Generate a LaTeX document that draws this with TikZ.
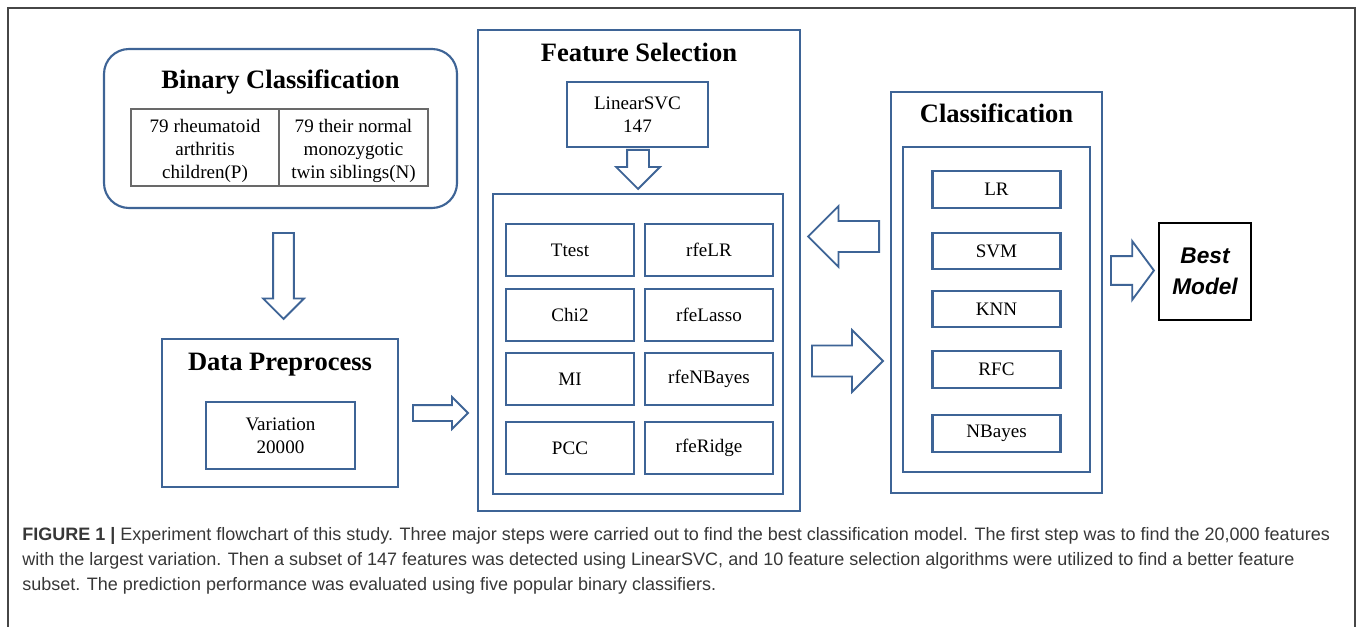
\documentclass[tikz,border=0pt]{standalone}
\usepackage{fontspec}
\setmainfont{Liberation Serif}
\newfontfamily\capfont{Liberation Sans}
\usetikzlibrary{shapes.arrows}

\definecolor{boxblue}{RGB}{62,100,150}
\definecolor{cellgray}{RGB}{105,105,105}
\definecolor{framegray}{RGB}{70,70,70}
\definecolor{captext}{RGB}{55,55,55}

\tikzset{
  box/.style={draw=boxblue, line width=1.6pt, inner sep=0pt},
  algo/.style={box, minimum width=96pt, minimum height=39pt, font=\fontsize{14.3}{17}\selectfont},
  clf/.style={box, minimum width=96pt, minimum height=27.5pt, font=\fontsize{14.3}{17}\selectfont},
  cell/.style={draw=cellgray, line width=0.8pt, inner sep=0pt, minimum height=57.75pt},
  celltext/.style={align=center, inner sep=0pt, font=\fontsize{14.3}{17}\selectfont},
  steptitle/.style={font=\fontsize{19.9}{23}\selectfont\bfseries},
  fat/.style={single arrow, draw=boxblue, line width=1.4pt, fill=white, inner xsep=0pt,
    minimum width=0pt, anchor=tail}
}

\begin{document}
\begin{tikzpicture}[x=0.75pt,y=-0.75pt]
\useasboundingbox (0,0) rectangle (1358,627);
% figure frame, open at the bottom
\draw[framegray, line width=0.8pt] (8,627) -- (8,8) -- (1355,8) -- (1355,627);

% binary classification
\node[box, rounded corners=18.75pt, minimum width=264.75pt, minimum height=119.25pt] (bin) at (280.5,128.5) {};
\node[steptitle] (bintitle) at (280.5,82) {Binary Classification};
\node[cell, minimum width=111pt] (pos) at (205,147.5) {};
\node[cell, minimum width=111.75pt] (neg) at (353.5,147.5) {};
\node[celltext] (postext) at (205,151) {79 rheumatoid\\arthritis\\children(P)};
\node[celltext] (negtext) at (353.5,151) {79 their normal\\monozygotic\\twin siblings(N)};

\node[fat, minimum height=64.5pt, inner ysep=7.1pt, single arrow head extend=7.5pt, rotate=-90] (down1) at (283.5,232) {};

% data preprocess
\node[box, minimum width=177pt, minimum height=111pt] (pre) at (280,413) {};
\node[steptitle] (pretitle) at (280,365) {Data Preprocess};
\node[box, minimum width=111.75pt, minimum height=50.25pt, align=center,
  font=\fontsize{14.3}{17}\selectfont] (var) at (280.5,435.5) {Variation\\20000};

\node[fat, minimum height=41.25pt, inner ysep=5.25pt, single arrow head extend=6pt] (right1) at (412,413) {};

% feature selection
\node[box, minimum width=241.5pt, minimum height=360.75pt] (fs) at (639,270.5) {};
\node[steptitle] (fstitle) at (639,52) {Feature Selection};
\node[box, minimum width=105.75pt, minimum height=48.75pt, align=center,
  font=\fontsize{14.3}{17}\selectfont] (svc) at (637.5,114.5) {LinearSVC\\147};
\node[fat, minimum height=29.25pt, inner ysep=7.5pt, single arrow head extend=8.25pt, rotate=-90] (down2) at (638,149) {};
\node[box, minimum width=217.5pt, minimum height=225pt] (fsin) at (638,344) {};
\foreach \l/\r/\y in {Ttest/rfeLR/250, Chi2/rfeLasso/315, MI/rfeNBayes/379, PCC/rfeRidge/448}
  \node[algo] (\l) at (570,\y) {\l}
    node[algo] (\r) at (709,\y) {\r};

% classification
\node[box, minimum width=158.25pt, minimum height=300.75pt] (cls) at (996.5,292.5) {};
\node[steptitle] (clstitle) at (996.5,113) {Classification};
\node[box, minimum width=140.25pt, minimum height=243.75pt] (clsin) at (996.5,309.5) {};
\foreach \m/\y in {LR/189.5, SVM/251, KNN/309, RFC/369.5, NBayes/433.5}
  \node[clf] (\m) at (996.5,\y) {\m};

\node[fat, minimum height=53.25pt, inner ysep=10.9pt, single arrow head extend=11.25pt, rotate=180] (back) at (880,236.5) {};
\node[fat, minimum height=53.25pt, inner ysep=10.9pt, single arrow head extend=11.6pt] (fwd) at (811,361) {};
\node[fat, minimum height=32.25pt, inner ysep=10.1pt, single arrow head extend=11.25pt,
  single arrow tip angle=107] (right2) at (1110,270.5) {};

% best model
\node[draw=black, line width=1.2pt, minimum width=69pt, minimum height=72.75pt, inner sep=0pt,
  align=center, font=\capfont\fontsize{17}{23}\selectfont\bfseries\itshape] (best) at (1205,271.5) {Best\\Model};

% caption
\node[anchor=base west, inner sep=0pt, align=left, text=captext,
  font=\capfont\fontsize{13.5}{18.75}\selectfont] (caption) at (22,590)
  {\textbf{FIGURE 1 |} Experiment flowchart of this study. Three major steps were carried out to find the best classification model. The first step was to find the 20,000 features\\
   with the largest variation. Then a subset of 147 features was detected using LinearSVC, and 10 feature selection algorithms were utilized to find a better feature\\
   subset. The prediction performance was evaluated using five popular binary classifiers.};
\end{tikzpicture}
\end{document}
